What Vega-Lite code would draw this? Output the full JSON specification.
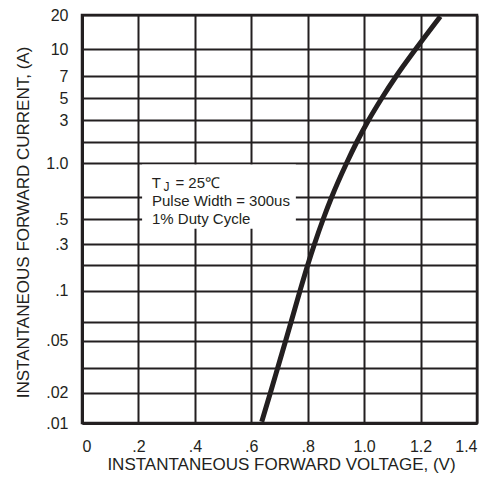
{
  "$schema": "https://vega.github.io/schema/vega-lite/v6.json",
  "width": 395,
  "height": 408,
  "autosize": {"type": "none"},
  "padding": {"left": 82, "top": 15, "right": 27, "bottom": 59},
  "background": "white",
  "config": {
    "view": {"stroke": "#231f20", "strokeWidth": 2.5},
    "font": "Liberation Sans",
    "axis": {
      "labelFont": "Liberation Sans",
      "titleFont": "Liberation Sans",
      "labelColor": "#231f20",
      "titleColor": "#231f20",
      "titleFontWeight": "normal",
      "gridColor": "#231f20",
      "gridOpacity": 1,
      "gridWidth": 2,
      "domainColor": "#231f20",
      "domainWidth": 3,
      "ticks": false,
      "tickSize": 0
    }
  },
  "data": {
    "values": [
      {"v": 0.637, "i": 0.0103},
      {"v": 0.668, "i": 0.02},
      {"v": 0.694, "i": 0.03},
      {"v": 0.722, "i": 0.05},
      {"v": 0.741, "i": 0.07},
      {"v": 0.773, "i": 0.1},
      {"v": 0.800, "i": 0.2},
      {"v": 0.824, "i": 0.3},
      {"v": 0.855, "i": 0.5},
      {"v": 0.885, "i": 0.7},
      {"v": 0.938, "i": 1.0},
      {"v": 0.974, "i": 2},
      {"v": 1.016, "i": 3},
      {"v": 1.063, "i": 5},
      {"v": 1.114, "i": 7},
      {"v": 1.183, "i": 10},
      {"v": 1.270, "i": 19.4}
    ]
  },
  "layer": [
    {
      "mark": {"type": "line", "color": "#231f20", "strokeWidth": 5, "strokeCap": "butt", "interpolate": "monotone"},
      "encoding": {
        "x": {
          "field": "v", "type": "quantitative",
          "scale": {"domain": [0, 1.4], "nice": false, "zero": false},
          "axis": {
            "values": [0, 0.2, 0.4, 0.6, 0.8, 1, 1.2, 1.4],
            "labelExpr": "datum.value==0?'0':datum.value<1?replace(format(datum.value,'.1f'),'0.','.'):format(datum.value,'.1f')",
            "labelFontSize": 16,
            "labelPadding": 15,
            "title": "INSTANTANEOUS FORWARD VOLTAGE, (V)",
            "titleFontSize": 17,
            "titleBaseline": "alphabetic",
            "titleY": 46,
            "titleX": 199
          }
        },
        "y": {
          "field": "i", "type": "quantitative",
          "scale": {
            "type": "log",
            "nice": false,
            "domain": [0.01, 0.02, 0.03, 0.05, 0.07, 0.1, 0.2, 0.3, 0.5, 0.7, 1, 2, 3, 5, 7, 10, 20],
            "range": [408, 377.5, 352.5, 325.5, 307, 275.5, 250, 229, 204, 182, 148, 127, 105, 83, 61, 34, 0]
          },
          "axis": {
            "values": [0.01, 0.02, 0.03, 0.05, 0.07, 0.1, 0.2, 0.3, 0.5, 0.7, 1, 2, 3, 5, 7, 10, 20],
            "labelExpr": "datum.value==20?'20':datum.value==10?'10':datum.value==7?'7':datum.value==5?'5':datum.value==3?'3':datum.value==1?'1.0':datum.value==0.5?'.5':datum.value==0.3?'.3':datum.value==0.1?'.1':datum.value==0.05?'.05':datum.value==0.02?'.02':datum.value==0.01?'.01':''",
            "labelFontSize": 16,
            "labelPadding": 14,
            "labelBaseline": "middle",
            "title": "INSTANTANEOUS FORWARD CURRENT, (A)",
            "titleFontSize": 17,
            "titleAngle": -90,
            "titleBaseline": "alphabetic",
            "titleX": -54,
            "titleY": 207
          }
        }
      }
    },
    {
      "data": {"values": [{}]},
      "mark": {"type": "rect", "fill": "white", "stroke": null},
      "encoding": {
        "x": {"datum": 0.213, "type": "quantitative"},
        "x2": {"datum": 0.758},
        "y": {"datum": 0.985, "type": "quantitative"},
        "y2": {"datum": 0.41}
      }
    },
    {
      "data": {"values": [{}]},
      "mark": {"type": "text", "align": "left", "baseline": "alphabetic", "fontSize": 15, "color": "#231f20", "font": "Liberation Sans"},
      "encoding": {
        "x": {"datum": 0.247, "type": "quantitative"},
        "y": {"datum": 0.769, "type": "quantitative"},
        "text": {"value": "T"}
      }
    },
    {
      "data": {"values": [{}]},
      "mark": {"type": "text", "align": "left", "baseline": "alphabetic", "fontSize": 12, "dy": 3, "color": "#231f20", "font": "Liberation Sans"},
      "encoding": {
        "x": {"datum": 0.289, "type": "quantitative"},
        "y": {"datum": 0.769, "type": "quantitative"},
        "text": {"value": "J"}
      }
    },
    {
      "data": {"values": [{}]},
      "mark": {"type": "text", "align": "left", "baseline": "alphabetic", "fontSize": 15, "color": "#231f20", "font": "Liberation Sans"},
      "encoding": {
        "x": {"datum": 0.331, "type": "quantitative"},
        "y": {"datum": 0.769, "type": "quantitative"},
        "text": {"value": "= 25℃"}
      }
    },
    {
      "data": {"values": [{}]},
      "mark": {"type": "text", "align": "left", "baseline": "alphabetic", "fontSize": 15, "color": "#231f20", "font": "Liberation Sans"},
      "encoding": {
        "x": {"datum": 0.248, "type": "quantitative"},
        "y": {"datum": 0.612, "type": "quantitative"},
        "text": {"value": "Pulse Width = 300us"}
      }
    },
    {
      "data": {"values": [{}]},
      "mark": {"type": "text", "align": "left", "baseline": "alphabetic", "fontSize": 15, "color": "#231f20", "font": "Liberation Sans"},
      "encoding": {
        "x": {"datum": 0.248, "type": "quantitative"},
        "y": {"datum": 0.452, "type": "quantitative"},
        "text": {"value": "1% Duty Cycle"}
      }
    }
  ]
}
